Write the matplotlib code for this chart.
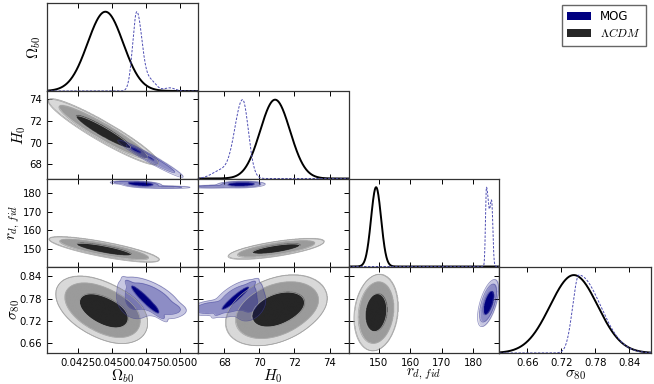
import numpy as np
import matplotlib.pyplot as plt
from matplotlib.colors import to_rgba
from matplotlib.patches import Patch

plt.rcParams['mathtext.fontset'] = 'cm'

# parametros e eixos
labels = [r'$\Omega_{b0}$', r'$H_0$', r'$r_{d,\,fid}$', r'$\sigma_{80}$']
xlims = [(0.04022, 0.05125), (66.48, 75.08), (140.3, 188.3), (0.610, 0.878)]
ylims = [None, (66.67, 74.77), (140.4, 188.0), (0.633, 0.867)]
ticks = [[0.0425, 0.0450, 0.0475, 0.0500], [68, 70, 72, 74],
         [150, 160, 170, 180], [0.66, 0.72, 0.78, 0.84]]
ticklabels = [['0.0425', '0.0450', '0.0475', '0.0500'], ['68', '70', '72', '74'],
              ['150', '160', '170', '180'], ['0.66', '0.72', '0.78', '0.84']]

# 1D: (media, sigma_esq, sigma_dir, amplitude)
lcdm_1d_omb = [(0.0445, 0.0013, 0.0013, 1.0)]
mog_1d_omb = [(0.0468, 0.0003, 0.00038, 1.0), (0.0478, 0.0004, 0.0004, 0.13),
              (0.0492, 0.0004, 0.0004, 0.04)]
lcdm_1d_h0 = [(70.9, 0.85, 0.85, 1.0)]
mog_1d_h0 = [(69.05, 0.45, 0.33, 1.0), (67.8, 0.5, 0.5, 0.1)]
lcdm_1d_rd = [(149.1, 1.6, 1.6, 1.0)]
mog_1d_rd = [(184.3, 0.3, 0.8, 1.0), (186.0, 0.5, 0.35, 0.72)]
lcdm_1d_s80 = [(0.742, 0.042, 0.042, 1.0)]
mog_1d_s80 = [(0.751, 0.011, 0.038, 1.0)]

# 2D: (mx, my, sx, sy, rho, peso)
lcdm_omb_h0 = [(0.04435, 70.95, 0.00133, 1.0, -0.94, 1.0)]
mog_omb_h0 = [(0.0467, 69.25, 0.00012, 0.08, -0.9, 1.0), (0.0478, 68.5, 0.0009, 0.65, -0.97, 0.016)]
lcdm_omb_rd = [(0.0444, 149.5, 0.00133, 2.26, -0.81, 1.0)]
mog_omb_rd = [(0.0471, 184.8, 0.0005, 0.6, -0.3, 1.0), (0.0488, 183.3, 0.0008, 0.3, -0.2, 0.15),
              (0.0458, 185.8, 0.0004, 0.35, 0.0, 0.15)]
lcdm_omb_s80 = [(0.0441, 0.752, 0.0011, 0.030, -0.45, 1.0), (0.0453, 0.732, 0.0008, 0.025, -0.2, 0.4)]
mog_omb_s80 = [(0.0474, 0.777, 0.00045, 0.0165, -0.95, 4.0), (0.0478, 0.782, 0.0009, 0.022, -0.6, 0.2),
               (0.0465, 0.768, 0.0006, 0.022, -0.3, 0.05), (0.0488, 0.755, 0.0006, 0.008, -0.3, 0.2)]
lcdm_h0_rd = [(70.95, 149.8, 0.9, 1.84, 0.70, 1.0)]
mog_h0_rd = [(68.95, 184.7, 0.45, 0.6, 0.1, 1.0), (67.5, 183.6, 0.6, 0.35, 0.2, 0.15)]
lcdm_h0_s80 = [(70.9, 0.748, 0.95, 0.032, 0.35, 1.0), (71.8, 0.765, 0.7, 0.022, 0.2, 0.3)]
mog_h0_s80 = [(68.62, 0.781, 0.36, 0.0145, 0.95, 4.0), (68.7, 0.78, 0.55, 0.02, 0.6, 0.2),
              (69.5, 0.762, 0.45, 0.022, 0.3, 0.05), (67.2, 0.755, 0.45, 0.008, 0.3, 0.2)]
lcdm_rd_s80 = [(149.0, 0.742, 2.3, 0.034, 0.15, 1.0)]
mog_rd_s80 = [(184.8, 0.768, 1.1, 0.021, 0.6, 1.0)]

curves_1d = [(lcdm_1d_omb, mog_1d_omb), (lcdm_1d_h0, mog_1d_h0),
             (lcdm_1d_rd, mog_1d_rd), (lcdm_1d_s80, mog_1d_s80)]
dens_2d = {(1, 0): (lcdm_omb_h0, mog_omb_h0), (2, 0): (lcdm_omb_rd, mog_omb_rd),
           (3, 0): (lcdm_omb_s80, mog_omb_s80), (2, 1): (lcdm_h0_rd, mog_h0_rd),
           (3, 1): (lcdm_h0_s80, mog_h0_s80), (3, 2): (lcdm_rd_s80, mog_rd_s80)}

lcdm_fill = ['#d9d9d9', '#9b9b9b', '#262626']
mog_fill = [(0, 0, 0.5, 0.22), (0, 0, 0.5, 0.45), (0, 0, 0.5, 1.0)]
lcdm_edge = '#a5a5a5'
mog_edge = (0.25, 0.25, 0.6, 0.6)

# posicao do rotulo y (em pixels da figura)
ylabel_x = [43, 28.5, 21.5, 21.5]


def curve(x, comps):
    y = np.zeros_like(x)
    for m, sl, sr, a in comps:
        s = np.where(x < m, sl, sr)
        y += a * np.exp(-0.5 * ((x - m) / s) ** 2)
    return y / y.max()


def dens(X, Y, comps):
    Z = np.zeros_like(X)
    for mx, my, sx, sy, r, w in comps:
        dx, dy = (X - mx) / sx, (Y - my) / sy
        q = (dx ** 2 - 2 * r * dx * dy + dy ** 2) / (1 - r ** 2)
        Z += w * np.exp(-0.5 * q)
    return Z


def levels(Z, probs=(0.99, 0.95, 0.68)):
    z = np.sort(Z.ravel())[::-1]
    c = np.cumsum(z) / z.sum()
    return [z[np.searchsorted(c, p)] for p in probs]


def draw_2d(ax, comps, xl, yl, fills, edge):
    dx, dy = xl[1] - xl[0], yl[1] - yl[0]
    ext = [xl[0] - 0.6 * dx, xl[1] + 0.6 * dx, yl[0] - 0.6 * dy, yl[1] + 0.6 * dy]
    x = np.linspace(ext[0], ext[1], 700)
    y = np.linspace(ext[2], ext[3], 700)
    X, Y = np.meshgrid(x, y)
    Z = dens(X, Y, comps)
    lv = levels(Z)
    img = np.zeros(Z.shape + (4,))
    for k in range(3):
        img[Z >= lv[k]] = to_rgba(fills[k])
    ax.imshow(img, origin='lower', extent=ext, aspect='auto', interpolation='bilinear')
    ax.contour(X, Y, Z, levels=lv, colors=[edge], linewidths=0.5)


fig = plt.figure(figsize=(6.54, 3.84), dpi=100)
col_x = [47, 197.5, 348.5, 499]
col_w = [150.5, 151, 150.5, 152]
row_y = [3, 91, 178.5, 266.5]
row_h = [88, 87.5, 88, 86.5]

for i in range(4):
    for j in range(i + 1):
        ax = fig.add_axes([col_x[j] / 654, 1 - (row_y[i] + row_h[i]) / 384,
                           col_w[j] / 654, row_h[i] / 384])
        if i == j:
            xs = np.linspace(xlims[j][0], xlims[j][1], 600)
            lc, mg = curves_1d[j]
            ax.plot(xs, curve(xs, lc), color='black', lw=1.4)
            ax.plot(xs, curve(xs, mg), color=(0.3, 0.3, 0.7), lw=0.7, ls=(0, (2.5, 1.5)))
            ax.set_ylim(0, 1.11)
            ax.set_yticks([])
            ax.tick_params(direction='in', top=True, length=3.5, width=0.7, labelsize=7.3)
        else:
            lc, mg = dens_2d[(i, j)]
            draw_2d(ax, lc, xlims[j], ylims[i], lcdm_fill, lcdm_edge)
            draw_2d(ax, mg, xlims[j], ylims[i], mog_fill, mog_edge)
            ax.set_ylim(ylims[i])
            ax.set_yticks(ticks[i])
            ax.tick_params(direction='in', top=True, right=True, length=3.5, width=0.7,
                           labelsize=7.3)
        ax.set_xlim(xlims[j])
        ax.set_xticks(ticks[j])
        if i == 3:
            ax.set_xticklabels(ticklabels[j])
            ax.set_xlabel(labels[j], fontsize=11, labelpad=-0.5)
        else:
            ax.set_xticklabels([])
        if j == 0:
            if i > 0:
                ax.set_yticklabels(ticklabels[i])
            ax.set_ylabel(labels[i], fontsize=11)
            ax.yaxis.set_label_coords((ylabel_x[i] - col_x[0]) / col_w[0], 0.5)
        elif i != j:
            ax.set_yticklabels([])
        for s in ax.spines.values():
            s.set_linewidth(0.9)
            s.set_color('#333333')

handles = [Patch(facecolor='navy', edgecolor='none'), Patch(facecolor='#262626', edgecolor='none')]
fig.legend(handles, ['MOG', r'$\Lambda CDM$'], loc='upper right',
           bbox_to_anchor=(646 / 654, 1 - 5 / 384), borderaxespad=0, fontsize=8.5,
           fancybox=False, edgecolor='#666666', handlelength=2.0, borderpad=0.45,
           labelspacing=0.35, framealpha=1)

plt.savefig('out.png', dpi=100)
